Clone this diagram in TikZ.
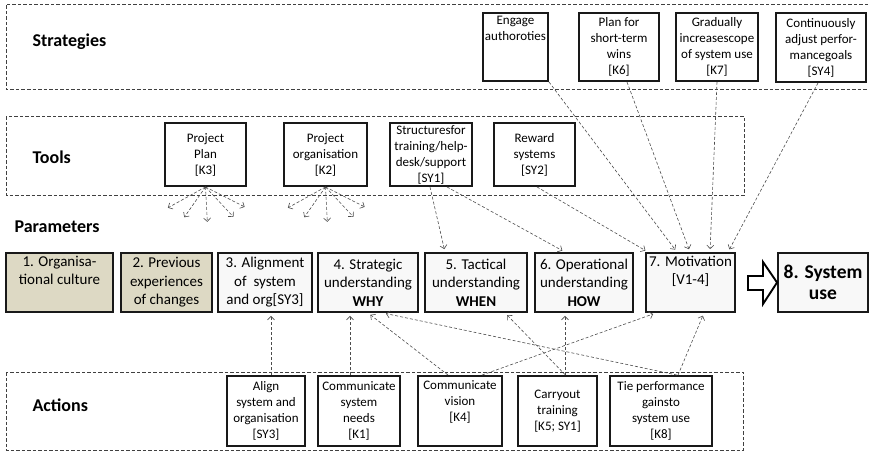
\documentclass[tikz,border=0pt]{standalone}
\usepackage{fontspec}
\setmainfont{Carlito}
\usetikzlibrary{arrows.meta}
\definecolor{tan}{RGB}{221,217,196}
\definecolor{pale}{RGB}{248,248,248}

\begin{document}
\begin{tikzpicture}[x=1pt,y=-1pt,
 box/.style={draw=black!90,line width=1.9pt,fill=white,align=center,inner sep=0pt,font=\fontsize{13}{16}\selectfont},
 par/.style={box,fill=pale,font=\fontsize{15}{18.5}\selectfont,minimum height=59pt},
 panel/.style={draw=black!75,line width=0.7pt,dash pattern=on 3.5pt off 2pt},
 link/.style={draw=black!70,line width=0.6pt,dash pattern=on 3pt off 2pt,shorten >=3pt,-{Straight Barb[length=3.5pt,width=7pt]}},
 head/.style={anchor=west,font=\fontsize{18}{20}\bfseries\selectfont}]
 \useasboundingbox (0,0) rectangle (869,452);
 % panels
 \draw[panel] (868,4)--(6,4)--(6,89)--(868,89);
 \draw[panel] (6,116) rectangle (744,195);
 \draw[panel] (6,372) rectangle (743,450);
 \node[head] at (29,42) {Strategies};
 \node[head] at (29,157) {Tools};
 \node[head] at (11,227) {Parameters};
 \node[head] at (29,405) {Actions};
 % strategies
 \node[box,minimum width=65pt,minimum height=68pt] (s1) at (515.5,47) {Engage\\authoroties\\\strut\\\strut};
 \node[box,minimum width=80pt,minimum height=68pt] (s2) at (619,47) {Plan for\\short-term\\wins\\{[K6]}};
 \node[box,minimum width=82pt,minimum height=68pt] (s3) at (717,47) {Gradually\\increasescope\\of system use\\{[K7]}};
 \node[box,minimum width=90pt,minimum height=69pt] (s4) at (821,47.5) {Continuously\\adjust perfor-\\mancegoals\\{[SY4]}};
 % tools
 \node[box,minimum width=81pt,minimum height=63pt] (k3) at (205.5,154.5) {Project\\Plan\\{[K3]}};
 \node[box,minimum width=83pt,minimum height=63pt] (k2) at (325.5,154.5) {Project\\organisation\\{[K2]}};
 \node[box,minimum width=82pt,minimum height=63pt] (sy1) at (431,154.5) {Structuresfor\\training/help-\\desk/support\\{[SY1]}};
 \node[box,minimum width=81pt,minimum height=63pt] (sy2) at (534.5,154.5) {Reward\\systems\\{[SY2]}};
 \foreach \a/\r in {209/43,235/37,273/35,313/41,333/44}{
  \draw[link,shorten >=0pt] (k3.south) -- ++(\a:\r pt);
  \draw[link,shorten >=0pt] (k2.south) -- ++(\a:\r pt);
 }
 % parameters
 \node[par,fill=tan,minimum width=107pt] (p1) at (59.5,282.5) {1. Organisa-\\tional culture\\\strut};
 \node[par,fill=tan,minimum width=91pt] (p2) at (166.5,282.5) {2. Previous\\experiences\\of changes};
 \node[par,minimum width=94pt] (p3) at (265,282.5) {3. Alignment\\of\ \ system\\and org[SY3]};
 \node[par,minimum width=100pt] (p4) at (368,282.5) {4. Strategic\\understanding\\\textbf{WHY}};
 \node[par,minimum width=102pt] (p5) at (476,282.5) {5. Tactical\\understanding\\\textbf{WHEN}};
 \node[par,minimum width=98pt] (p6) at (584,282.5) {6. Operational\\understanding\\\textbf{HOW}};
 \node[par,minimum width=89pt] (p7) at (690.5,282.5) {7. Motivation\\{[V1-4]}\\\strut};
 \node[par,minimum width=90pt,font=\fontsize{19.5}{21}\bfseries\selectfont] (p8) at (823,282.5) {8. System\\use};
 \draw[line width=1.9pt,fill=white,line join=miter] (748,276)--(763,276)--(763,262)--(p8.west)--(763,304)--(763,290)--(748,290)--cycle;
 % actions
 \node[box,minimum width=78pt,minimum height=70pt] (a1) at (266,411) {Align\\system and\\organisation\\{[SY3]}};
 \node[box,minimum width=82pt,minimum height=70pt] (a2) at (359,411) {Communicate\\system\\needs\\{[K1]}};
 \node[box,minimum width=84pt,minimum height=70pt] (a3) at (460,411) {Communicate\\vision\\{[K4]}\\\strut};
 \node[box,minimum width=79pt,minimum height=70pt] (a4) at (557.5,411) {Carryout\\training\\{[K5; SY1]}};
 \node[box,minimum width=102pt,minimum height=70pt] (a5) at (661,411) {Tie performance\\gainsto\\system use\\{[K8]}};
 % strategies -> motivation
 \draw[link] (s1.south east) -- ([xshift=-13.5pt]p7.north);
 \draw[link] ([xshift=8pt]s2.south) -- ([xshift=-0.5pt]p7.north);
 \draw[link] (s3.south) -- ([xshift=19.5pt]p7.north);
 \draw[link] ([xshift=-3pt]s4.south) -- ([xshift=37.5pt]p7.north);
 % tools -> parameters
 \draw[link] ([xshift=-1pt]sy1.south) -- ([xshift=-31pt]p5.north);
 \draw[link] ([xshift=16pt]sy1.south) -- ([xshift=-19pt]p6.north);
 \draw[link] ([xshift=2.5pt]sy2.south) -- ([xshift=-42.5pt]p7.north);
 % actions -> parameters
 \draw[link] ([xshift=5pt]a1.north) -- ([xshift=6pt]p3.south);
 \draw[link] ([xshift=-9pt]a2.north) -- ([xshift=-18pt]p4.south);
 \draw[link] ([xshift=-12pt]a3.north) -- (p4.south);
 \draw[link] ([xshift=22pt]a3.north) -- ([xshift=-34.5pt]p7.south);
 \draw[link] ([xshift=8pt]a4.north) -- ([xshift=29pt]p5.south);
 \draw[link] ([xshift=7.5pt]a4.north) -- ([xshift=-19pt]p6.south);
 \draw[link] ([xshift=16pt]a5.north) -- ([xshift=15pt]p4.south);
 \draw[link] ([xshift=17pt]a5.north) -- ([xshift=13.5pt]p7.south);
\end{tikzpicture}
\end{document}
